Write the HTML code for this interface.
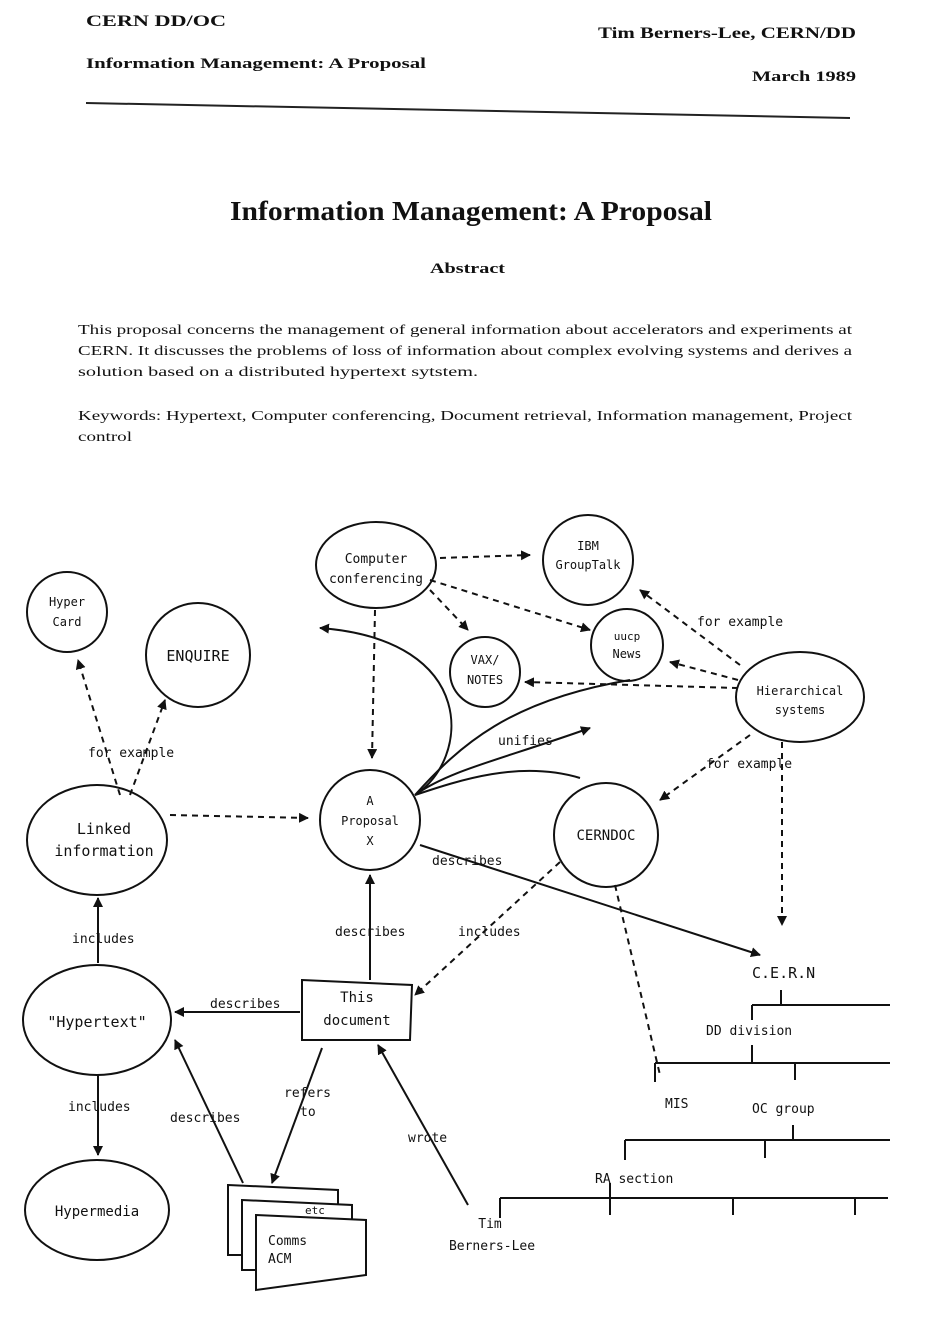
<!DOCTYPE html>
<html><head><meta charset="utf-8"><style>
html,body{margin:0;padding:0;background:#fff;}
svg{display:block}
.s{font-family:"Liberation Serif",serif;fill:#111}
.d{font-family:"DejaVu Sans Mono","Liberation Mono",monospace;fill:#111;font-size:13px}
</style></head><body>
<svg width="935" height="1341" viewBox="0 0 935 1341" xmlns="http://www.w3.org/2000/svg">
<defs>
<marker id="a" markerWidth="10" markerHeight="10" refX="9" refY="5" orient="auto" markerUnits="userSpaceOnUse"><path d="M0,0 L10,5 L0,10 z" fill="#111"/></marker>
</defs>
<rect width="935" height="1341" fill="#fff"/>
<text class="s" x="86" y="26" font-size="16" font-weight="bold" textLength="140" lengthAdjust="spacingAndGlyphs">CERN DD/OC</text>
<text class="s" x="86" y="68" font-size="15" font-weight="bold" textLength="340" lengthAdjust="spacingAndGlyphs">Information Management: A Proposal</text>
<text class="s" x="598" y="38" font-size="16" font-weight="bold" textLength="258" lengthAdjust="spacingAndGlyphs">Tim Berners-Lee, CERN/DD</text>
<text class="s" x="752" y="81" font-size="15" font-weight="bold" textLength="104" lengthAdjust="spacingAndGlyphs">March 1989</text>
<line x1="86" y1="103" x2="850" y2="118" stroke="#222" stroke-width="2"/>
<text class="s" x="230" y="220" font-size="27" font-weight="bold" textLength="482" lengthAdjust="spacingAndGlyphs">Information Management: A Proposal</text>
<text class="s" x="430" y="273" font-size="15" font-weight="bold" textLength="75" lengthAdjust="spacingAndGlyphs">Abstract</text>
<g class="s" font-size="13.5">
<text x="78" y="334" textLength="774" lengthAdjust="spacingAndGlyphs">This proposal concerns the management of general information about accelerators and experiments at</text>
<text x="78" y="355" textLength="774" lengthAdjust="spacingAndGlyphs">CERN.  It discusses the problems of loss of information about complex evolving systems and derives a</text>
<text x="78" y="376" textLength="400" lengthAdjust="spacingAndGlyphs">solution based on a distributed hypertext sytstem.</text>
<text x="78" y="420" textLength="774" lengthAdjust="spacingAndGlyphs">Keywords: Hypertext, Computer conferencing, Document retrieval, Information management, Project</text>
<text x="78" y="441" textLength="54" lengthAdjust="spacingAndGlyphs">control</text>
</g>
<g fill="none" stroke="#111" stroke-width="2">
<circle cx="67" cy="612" r="40"/>
<circle cx="198" cy="655" r="52"/>
<circle cx="485" cy="672" r="35"/>
<circle cx="588" cy="560" r="45"/>
<circle cx="627" cy="645" r="36"/>
<circle cx="370" cy="820" r="50"/>
<circle cx="606" cy="835" r="52"/>
<ellipse cx="376" cy="565" rx="60" ry="43"/>
<ellipse cx="800" cy="697" rx="64" ry="45"/>
<ellipse cx="97" cy="840" rx="70" ry="55"/>
<ellipse cx="97" cy="1020" rx="74" ry="55"/>
<ellipse cx="97" cy="1210" rx="72" ry="50"/>
<path d="M302,980 L412,985 L410,1040 L302,1040 z"/>
<path d="M228,1185 L338,1190 L338,1255 L228,1255 z" fill="#fff"/>
<path d="M242,1200 L352,1205 L352,1270 L242,1270 z" fill="#fff"/>
<path d="M256,1215 L366,1220 L366,1275 L256,1290 z" fill="#fff"/>
</g>
<g fill="none" stroke="#111" stroke-width="2" stroke-dasharray="6 5">
<line x1="440" y1="558" x2="530" y2="555" marker-end="url(#a)"/>
<line x1="430" y1="580" x2="590" y2="630" marker-end="url(#a)"/>
<line x1="430" y1="590" x2="468" y2="630" marker-end="url(#a)"/>
<line x1="375" y1="610" x2="372" y2="758" marker-end="url(#a)"/>
<line x1="740" y1="665" x2="640" y2="590" marker-end="url(#a)"/>
<line x1="738" y1="680" x2="670" y2="662" marker-end="url(#a)"/>
<line x1="738" y1="688" x2="525" y2="682" marker-end="url(#a)"/>
<line x1="750" y1="735" x2="660" y2="800" marker-end="url(#a)"/>
<line x1="782" y1="742" x2="782" y2="925" marker-end="url(#a)"/>
<line x1="120" y1="795" x2="78" y2="660" marker-end="url(#a)"/>
<line x1="130" y1="795" x2="165" y2="700" marker-end="url(#a)"/>
<line x1="170" y1="815" x2="308" y2="818" marker-end="url(#a)"/>
<line x1="560" y1="862" x2="415" y2="995" marker-end="url(#a)"/>
<line x1="615" y1="885" x2="660" y2="1075"/>
</g>
<g fill="none" stroke="#111" stroke-width="2">
<path d="M415,795 C470,760 480,640 320,628" marker-end="url(#a)"/>
<path d="M415,795 C450,770 500,760 590,728" marker-end="url(#a)"/>
<path d="M415,795 C460,745 510,700 630,680"/>
<path d="M415,795 C460,780 520,760 580,778"/>
<line x1="420" y1="845" x2="760" y2="955" marker-end="url(#a)"/>
<line x1="370" y1="980" x2="370" y2="875" marker-end="url(#a)"/>
<line x1="300" y1="1012" x2="175" y2="1012" marker-end="url(#a)"/>
<line x1="322" y1="1048" x2="272" y2="1183" marker-end="url(#a)"/>
<line x1="243" y1="1183" x2="175" y2="1040" marker-end="url(#a)"/>
<line x1="468" y1="1205" x2="378" y2="1045" marker-end="url(#a)"/>
<line x1="98" y1="963" x2="98" y2="898" marker-end="url(#a)"/>
<line x1="98" y1="1075" x2="98" y2="1155" marker-end="url(#a)"/>
<path d="M781,990 V1005 M752,1005 H890 M752,1005 V1020"/>
<path d="M752,1045 V1063 M655,1063 H890 M655,1063 V1082 M795,1063 V1080"/>
<path d="M793,1125 V1140 M625,1140 H890 M625,1140 V1160 M765,1140 V1158"/>
<path d="M610,1183 V1198 M500,1198 H888 M500,1198 V1218 M610,1198 V1215 M733,1198 V1215 M855,1198 V1215"/>
</g>
<g class="d">
<text x="67" y="606" text-anchor="middle" font-size="12">Hyper</text><text x="67" y="626" text-anchor="middle" font-size="12">Card</text>
<text x="198" y="661" text-anchor="middle" font-size="15">ENQUIRE</text>
<text x="485" y="664" text-anchor="middle" font-size="12">VAX/</text><text x="485" y="684" text-anchor="middle" font-size="12">NOTES</text>
<text x="588" y="550" text-anchor="middle" font-size="12">IBM</text><text x="588" y="569" text-anchor="middle" font-size="12">GroupTalk</text>
<text x="627" y="640" text-anchor="middle" font-size="11">uucp</text><text x="627" y="658" text-anchor="middle" font-size="12">News</text>
<text x="370" y="805" text-anchor="middle" font-size="12">A</text><text x="370" y="825" text-anchor="middle" font-size="12">Proposal</text><text x="370" y="845" text-anchor="middle" font-size="12">X</text>
<text x="606" y="840" text-anchor="middle" font-size="14">CERNDOC</text>
<text x="376" y="563" text-anchor="middle" font-size="13">Computer</text><text x="376" y="583" text-anchor="middle" font-size="13">conferencing</text>
<text x="800" y="695" text-anchor="middle" font-size="12">Hierarchical</text><text x="800" y="714" text-anchor="middle" font-size="12">systems</text>
<text x="104" y="834" text-anchor="middle" font-size="15">Linked</text><text x="104" y="856" text-anchor="middle" font-size="15">information</text>
<text x="97" y="1027" text-anchor="middle" font-size="15">"Hypertext"</text>
<text x="97" y="1216" text-anchor="middle" font-size="14">Hypermedia</text>
<text x="357" y="1002" text-anchor="middle" font-size="14">This</text><text x="357" y="1025" text-anchor="middle" font-size="14">document</text>
<text x="305" y="1214" font-size="11">etc</text>
<text x="268" y="1245" font-size="13">Comms</text><text x="268" y="1263" font-size="13">ACM</text>
<text x="490" y="1228" text-anchor="middle">Tim</text><text x="492" y="1250" text-anchor="middle">Berners-Lee</text>
<text x="697" y="626">for example</text>
<text x="88" y="757">for example</text>
<text x="706" y="768">for example</text>
<text x="498" y="745">unifies</text>
<text x="432" y="865">describes</text>
<text x="335" y="936">describes</text>
<text x="458" y="936">includes</text>
<text x="210" y="1008">describes</text>
<text x="72" y="943">includes</text>
<text x="68" y="1111">includes</text>
<text x="170" y="1122">describes</text>
<text x="284" y="1097">refers</text><text x="300" y="1116">to</text>
<text x="408" y="1142">wrote</text>
<text x="752" y="978" font-size="15">C.E.R.N</text>
<text x="706" y="1035">DD division</text>
<text x="665" y="1108">MIS</text>
<text x="752" y="1113">OC group</text>
<text x="595" y="1183">RA section</text>
</g>
</svg>
</body></html>
